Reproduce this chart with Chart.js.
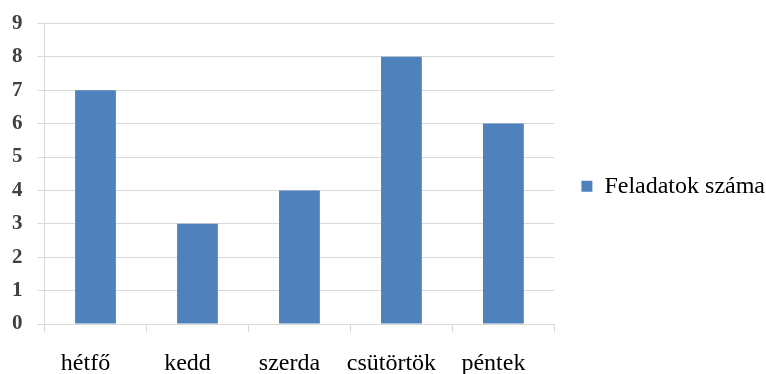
<!DOCTYPE html>
<html>
<head>
<meta charset="utf-8">
<script src="https://cdn.jsdelivr.net/npm/chart.js@4/dist/chart.umd.min.js"></script>
<style>
  html, body { margin: 0; padding: 0; background: #ffffff; }
  #wrap { width: 766px; height: 374px; }
</style>
</head>
<body>
<div id="wrap"><canvas id="c" width="766" height="374"></canvas></div>
<script>
const categories = ['hétfő', 'kedd', 'szerda', 'csütörtök', 'péntek'];
const seriesLabel = 'Feladatok száma';
const seriesValues = [7, 3, 4, 8, 6];
const yTicks = [0, 1, 2, 3, 4, 5, 6, 7, 8, 9];

const ctx = document.getElementById('c').getContext('2d');
new Chart(ctx, {
  type: 'bar',
  data: {
    labels: categories,
    datasets: [{
      label: seriesLabel,
      data: seriesValues,
      backgroundColor: '#4F81BD',
      borderWidth: 0,
      categoryPercentage: 1.0,
      barPercentage: 0.4
    }]
  },
  options: {
    responsive: false,
    animation: false,
    devicePixelRatio: 1,
    layout: { padding: { left: -3, top: 7, right: -9, bottom: -22 } },
    plugins: {
      tooltip: { enabled: false },
      legend: {
        display: true,
        position: 'right',
        align: 'center',
        fullSize: false,
        maxWidth: 260,
        title: {
          display: true,
          text: '',
          padding: { top: 24, bottom: 0 },
          font: { size: 1 }
        },
        labels: {
          boxWidth: 11,
          boxHeight: 11,
          padding: 27,
          color: '#000000',
          font: { family: 'Liberation Serif', size: 24 }
        }
      }
    },
    scales: {
      x: {
        offset: true,
        grid: {
          offset: true,
          drawOnChartArea: false,
          drawTicks: true,
          tickLength: 8,
          color: '#d9d9d9',
          lineWidth: 1
        },
        border: { display: true, color: '#d9d9d9', width: 1 },
        ticks: {
          color: '#000000',
          padding: 20,
          labelOffset: -10,
          maxRotation: 0,
          autoSkip: false,
          font: { family: 'Liberation Serif', size: 24, lineHeight: 1.0 }
        }
      },
      y: {
        min: yTicks[0],
        max: yTicks[yTicks.length - 1],
        afterBuildTicks: (axis) => { axis.ticks = yTicks.map(v => ({ value: v })); },
        grid: {
          color: '#d9d9d9',
          lineWidth: 1,
          drawTicks: true,
          tickLength: 7
        },
        border: { display: true, color: '#d9d9d9', width: 1 },
        ticks: {
          color: '#404040',
          padding: 15,
          font: { family: 'Liberation Serif', size: 21, weight: 'bold', lineHeight: 0.8 }
        }
      }
    }
  }
});
</script>
</body>
</html>
